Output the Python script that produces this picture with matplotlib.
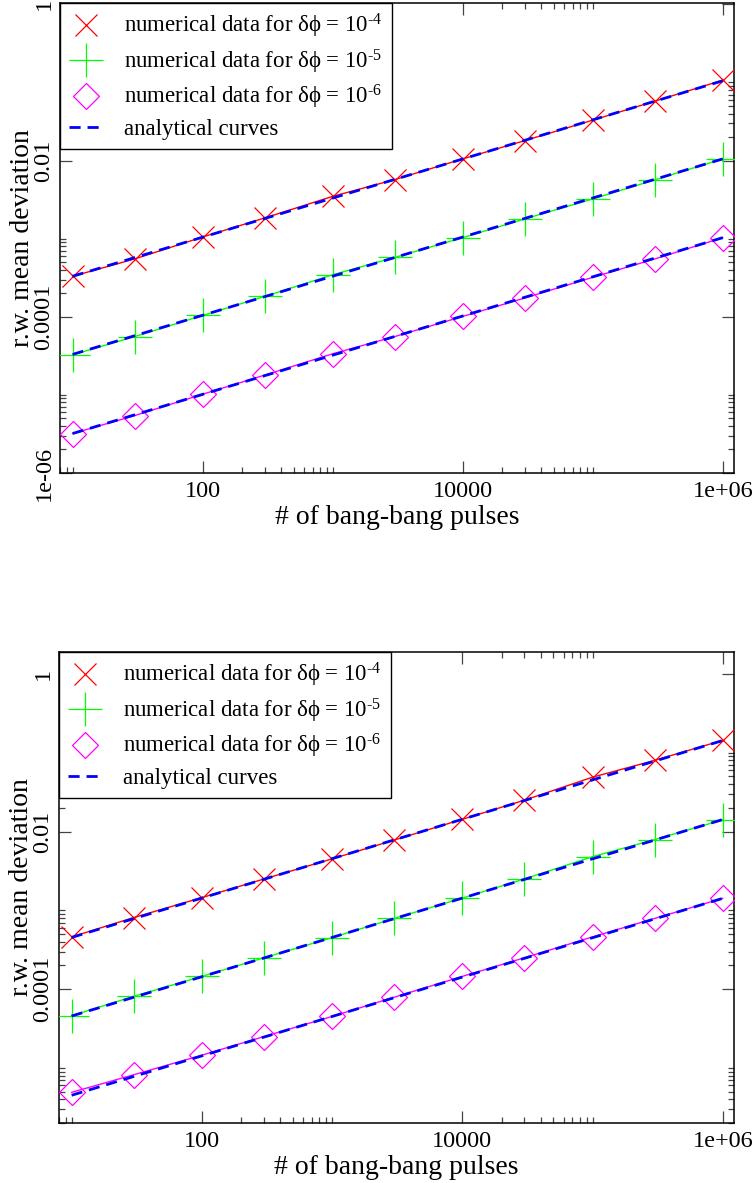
import matplotlib
matplotlib.use('Agg')
import matplotlib.pyplot as plt
from matplotlib.ticker import FixedLocator, FixedFormatter, NullFormatter

plt.rcParams['font.family'] = ['Liberation Serif', 'DejaVu Serif']
plt.rcParams['mathtext.fontset'] = 'custom'
plt.rcParams['mathtext.rm'] = 'Liberation Serif'
plt.rcParams['mathtext.it'] = 'Liberation Serif:italic'
plt.rcParams['lines.scale_dashes'] = False

# number of pulses (x) for every data set
pulses = [10, 30, 100, 300, 1000, 3000, 10000, 30000, 100000, 300000, 1000000]

# top panel, numerical data
top_d4 = [3.3e-4, 5.5e-4, 1.05e-3, 1.84e-3, 3.48e-3, 5.7e-3, 1.05e-2, 1.8e-2, 3.29e-2, 5.75e-2, 1.07e-1]
top_d5 = [3.26e-5, 5.58e-5, 1.04e-4, 1.82e-4, 3.45e-4, 5.75e-4, 1.03e-3, 1.79e-3, 3.23e-3, 5.66e-3, 1.05e-2]
top_d6 = [3.2e-6, 5.43e-6, 1.02e-5, 1.79e-5, 3.36e-5, 5.58e-5, 1.01e-4, 1.74e-4, 3.2e-4, 5.5e-4, 1.03e-3]

# bottom panel, numerical data
bot_d4 = [4.6e-4, 8.1e-4, 1.45e-3, 2.5e-3, 4.5e-3, 7.8e-3, 1.43e-2, 2.5e-2, 4.9e-2, 8.0e-2, 1.44e-1]
bot_d5 = [4.6e-5, 8.1e-5, 1.45e-4, 2.5e-4, 4.5e-4, 7.9e-4, 1.43e-3, 2.5e-3, 4.8e-3, 7.9e-3, 1.41e-2]
bot_d6 = [4.9e-6, 8.2e-6, 1.45e-5, 2.5e-5, 4.5e-5, 7.9e-5, 1.45e-4, 2.5e-4, 4.6e-4, 7.9e-4, 1.42e-3]

# analytical curves (straight lines in log-log, given by their end points)
fit_x = [10, 1000000]
top_fit4 = [3.3e-4, 1.05e-1]
top_fit5 = [3.3e-5, 1.05e-2]
top_fit6 = [3.2e-6, 1.03e-3]
bot_fit4 = [4.53e-4, 1.43e-1]
bot_fit5 = [4.56e-5, 1.42e-2]
bot_fit6 = [4.5e-6, 1.42e-3]

labels = [r'numerical data for $\mathrm{\delta\phi}$ = 10$^{‐4}$',
          r'numerical data for $\mathrm{\delta\phi}$ = 10$^{‐5}$',
          r'numerical data for $\mathrm{\delta\phi}$ = 10$^{‐6}$']

xmajor = [1, 100, 10000, 1000000]
xmajor_labels = ['1', '100', '10000', '1e+06']
ymajor = [1e-6, 1e-4, 1e-2, 1]
ymajor_labels = ['1e-06', '0.0001', '0.01', '1']

W, H = 756, 1183


def draw_panel(ax, d4, d5, d6, f4, f5, f6, ylim):
    styles = [('#ff0000', 'x', 16.5, d4, f4),
              ('#00ff00', '+', 24, d5, f5),
              ('#ff00ff', 'D', 13.5, d6, f6)]
    for (col, mk, ms, d, f), lab in zip(styles, labels):
        ax.plot(pulses, d, '-', color=col, lw=1.0, zorder=2)
        ax.plot(pulses, d, linestyle='none', marker=mk, ms=ms, mfc='none',
                mec=col, mew=0.9, label=lab, zorder=3)
    for i, (col, mk, ms, d, f) in enumerate(styles):
        ax.plot(fit_x, f, color='#0000ff', lw=2.0, dashes=(8, 5),
                label='analytical curves' if i == 0 else None, zorder=4)

    ax.set_xscale('log')
    ax.set_yscale('log')
    ax.set_xlim(8, 1.22e6)
    ax.set_ylim(*ylim)

    ax.xaxis.set_major_locator(FixedLocator(xmajor))
    ax.xaxis.set_major_formatter(FixedFormatter(xmajor_labels))
    ax.xaxis.set_minor_locator(FixedLocator([k * 10.0 ** e for e in (0, 2, 4, 6) for k in range(2, 11)]))
    ax.xaxis.set_minor_formatter(NullFormatter())
    ax.yaxis.set_major_locator(FixedLocator(ymajor))
    ax.yaxis.set_major_formatter(FixedFormatter(ymajor_labels))
    ax.yaxis.set_minor_locator(FixedLocator([k * 10.0 ** e for e in (-6, -4, -2, 0) for k in range(2, 11)]))
    ax.yaxis.set_minor_formatter(NullFormatter())

    ax.tick_params(which='both', direction='in', top=True, right=True,
                   color='#444444', width=0.9, labelsize=17.5)
    ax.tick_params(which='major', length=8.6)
    ax.tick_params(which='minor', length=4.3)
    ax.tick_params(axis='x', which='major', pad=6)
    ax.tick_params(axis='y', which='major', pad=4, labelrotation=90)
    for t in ax.get_yticklabels():
        t.set_va('center')
    for s in ax.spines.values():
        s.set_linewidth(1.1)

    ax.set_xlabel('# of bang-bang pulses', fontsize=20)
    ax.set_ylabel('r.w. mean deviation', fontsize=20)
    ax.xaxis.set_label_coords(0.5, -0.069)
    ax.yaxis.set_label_coords(-0.037, 0.5)

    leg = ax.legend(loc='upper left', bbox_to_anchor=(0, 1), borderaxespad=0,
                    fontsize=16.5, fancybox=False, framealpha=1, edgecolor='black',
                    handlelength=1.45, handletextpad=0.95, borderpad=0.4,
                    labelspacing=0.32)
    leg.get_frame().set_linewidth(1.0)


fig = plt.figure(figsize=(W / 100, H / 100), dpi=100)
ax1 = fig.add_axes([60 / W, 1 - 473 / H, 674 / W, 470 / H])
ax2 = fig.add_axes([59 / W, 1 - 1123 / H, 675 / W, 471 / H])

draw_panel(ax1, top_d4, top_d5, top_d6, top_fit4, top_fit5, top_fit6, (1e-6, 1.04))
draw_panel(ax2, bot_d4, bot_d5, bot_d6, bot_fit4, bot_fit5, bot_fit6, (2.0e-6, 1.9))

fig.savefig('out.png', dpi=100)
